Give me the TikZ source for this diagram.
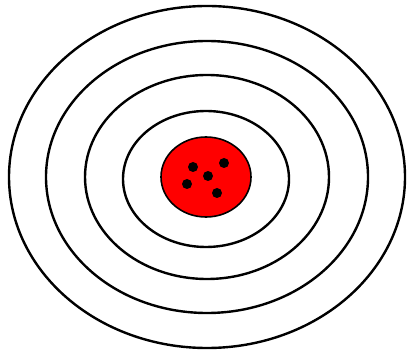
\documentclass[tikz,border=0pt]{standalone}
\usepackage{tikz}
\usetikzlibrary{calc}

\begin{document}
\begin{tikzpicture}[
            x=1pt,
            y=-1pt,
            ring/.style={line width=2.4pt, black},
            hole/.style={fill=black}
        ]

            % --- Frame ---
            \useasboundingbox (0,0) rectangle (409,352);

            % --- Coordinates ---
            \coordinate (O) at (207,177);

            % --- 1. Rings ---
            \draw[ring] (O) ellipse [x radius=198pt, y radius=171pt];
            \draw[ring] (O) ellipse [x radius=161pt, y radius=136pt];
            \draw[ring] (O) ellipse [x radius=122pt, y radius=102pt];
            \draw[ring] ($(O)+(-1,2)$) ellipse [x radius=83pt, y radius=68pt];

            % --- 2. Bull's Eye ---
            \filldraw[red, draw=black, line width=1.6pt] ($(O)+(-1,0)$) ellipse [x radius=45pt, y radius=40pt];

            % --- 3. Holes ---
            \fill[hole] (193,167) circle (5pt);
            \fill[hole] (224,163) circle (5pt);
            \fill[hole] (208,176) circle (5pt);
            \fill[hole] (187,184) circle (5pt);
            \fill[hole] (217,193) circle (5pt);

        \end{tikzpicture}
\end{document}
